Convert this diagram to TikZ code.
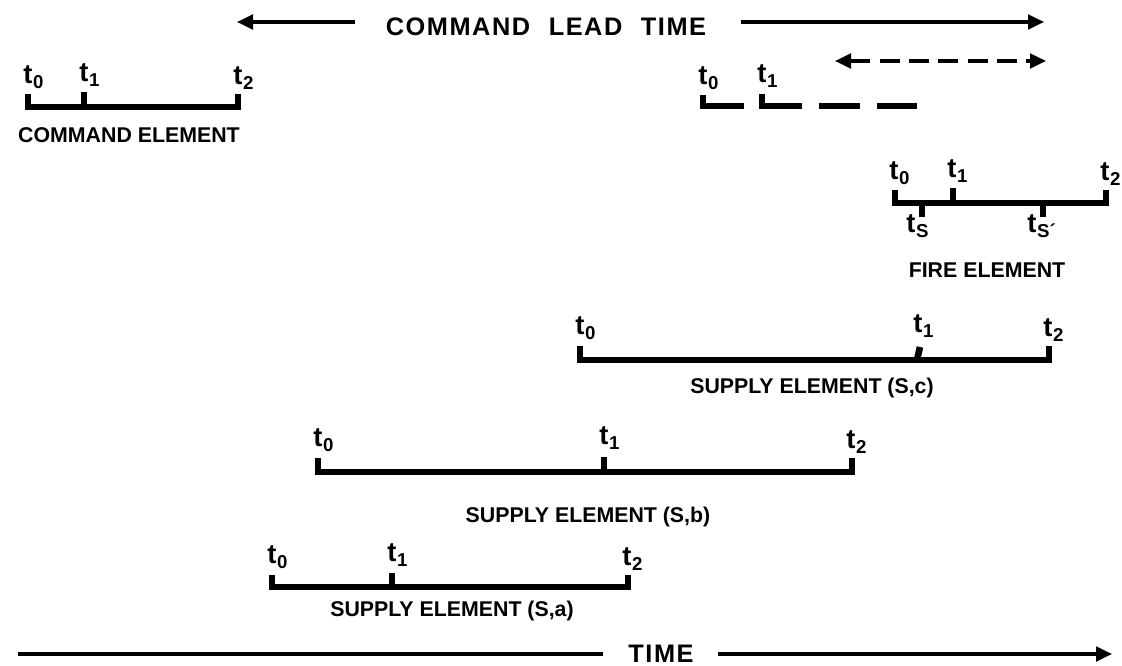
\documentclass[tikz,border=0pt]{standalone}
\usepackage{fontspec}
\setmainfont{Liberation Sans}
\newfontfamily\titlefont{Liberation Sans}[LetterSpace=6]
\usetikzlibrary{arrows.meta}
\newcommand{\tl}[1]{t\kern0.6pt\raisebox{-0.34ex}{\fontsize{14}{15}\selectfont #1}}
\tikzset{
  elbar/.style={line width=5pt, line join=miter, line cap=butt},
  arr/.style={line width=2.3pt, -{Triangle[length=12pt,width=11pt]}},
  darr/.style={line width=2.3pt, dash pattern=on 15pt off 7pt, {Triangle[length=12pt,width=11pt]}-{Triangle[length=12pt,width=11pt]}},
  tup/.style={anchor=south west, inner sep=0pt, font=\fontsize{20.5}{21}\selectfont\bfseries},
  tdn/.style={anchor=north west, inner sep=0pt, font=\fontsize{20.5}{21}\selectfont\bfseries},
  elname/.style={inner sep=0pt, font=\fontsize{16}{18}\selectfont\bfseries},
  ttl/.style={inner sep=0pt, font=\titlefont\fontsize{19}{21}\selectfont\bfseries}
}
\begin{document}
\begin{tikzpicture}[x=0.75pt,y=-0.75pt]
\useasboundingbox (0,0) rectangle (1122,666);

% ---------- command lead time ----------
\node[ttl] (clt) at (546,27) {COMMAND\hspace{14pt}LEAD\hspace{14pt}TIME};
\coordinate (cltA) at (355,22);
\coordinate (cltAtip) at (237,22);
\coordinate (cltB) at (741,22);
\coordinate (cltBtip) at (1044,22);
\draw[arr] (cltA) -- (cltAtip);
\draw[arr] (cltB) -- (cltBtip);
\coordinate (dA) at (835,61);
\coordinate (dB) at (1046,61);
\draw[darr] (dA) -- (dB);

% ---------- command element ----------
\coordinate (c0t) at (28,94);  \coordinate (c0) at (28,107);
\coordinate (c1t) at (84,92);  \coordinate (c1) at (84,107);
\coordinate (c2t) at (238,94); \coordinate (c2) at (238,107);
\draw[elbar] (c0t) -- (c0) -- (c2) -- (c2t);
\draw[elbar] (c1t) -- (c1);
\node[tup] (c0l) at (23,89) {\tl{0}};
\node[tup] (c1l) at (79,87) {\tl{1}};
\node[tup] (c2l) at (233,90) {\tl{2}};
\node[elname] (cname) at (129,135) {COMMAND ELEMENT};

% ---------- dashed (second) command element ----------
\coordinate (d0t) at (703,95); \coordinate (d0) at (703,106);
\coordinate (d0e) at (744,106);
\coordinate (d1t) at (762,94); \coordinate (d1) at (762,106);
\coordinate (d1e) at (802,106);
\coordinate (d2s) at (819,106); \coordinate (d2e) at (860,106);
\coordinate (d3s) at (877,106); \coordinate (d3e) at (917,106);
\draw[elbar] (d0t) -- (d0) -- (d0e);
\draw[elbar] (d1t) -- (d1) -- (d1e);
\draw[elbar] (d2s) -- (d2e);
\draw[elbar] (d3s) -- (d3e);
\node[tup] (d0l) at (698,90) {\tl{0}};
\node[tup] (d1l) at (757,88) {\tl{1}};

% ---------- fire element ----------
\coordinate (f0t) at (895,190);  \coordinate (f0) at (895,203);
\coordinate (f1t) at (953,188);  \coordinate (f1) at (953,203);
\coordinate (f2t) at (1106,190); \coordinate (f2) at (1106,203);
\coordinate (fs) at (922,203);   \coordinate (fsb) at (922,217);
\coordinate (fsp) at (1043,203); \coordinate (fspb) at (1043,217);
\draw[elbar] (f0t) -- (f0) -- (f2) -- (f2t);
\draw[elbar] (f1t) -- (f1);
\draw[elbar] (fs) -- (fsb);
\draw[elbar] (fsp) -- (fspb);
\node[tup] (f0l) at (889,185) {\tl{0}};
\node[tup] (f1l) at (947,183) {\tl{1}};
\node[tup] (f2l) at (1100,186) {\tl{2}};
\node[tdn] (fsl) at (906,214) {\tl{S}};
\node[tdn] (fspl) at (1027,214) {\tl{S\char"00B4}};
\node[elname] (fname) at (987,270) {FIRE ELEMENT};

% ---------- supply element (S,c) ----------
\coordinate (sc0t) at (580,346);  \coordinate (sc0) at (580,360);
\coordinate (sc1t) at (920,347);  \coordinate (sc1) at (917,360);
\coordinate (sc2t) at (1049,346); \coordinate (sc2) at (1049,360);
\draw[elbar] (sc0t) -- (sc0) -- (sc2) -- (sc2t);
\draw[elbar] (sc1t) -- (sc1);
\node[tup] (sc0l) at (575,340) {\tl{0}};
\node[tup] (sc1l) at (913,338) {\tl{1}};
\node[tup] (sc2l) at (1043,342) {\tl{2}};
\node[elname] (scname) at (812,388) {SUPPLY ELEMENT (S,c)};

% ---------- supply element (S,b) ----------
\coordinate (sb0t) at (318,458);  \coordinate (sb0) at (318,472);
\coordinate (sb1t) at (604,457);  \coordinate (sb1) at (604,472);
\coordinate (sb2t) at (852,458);  \coordinate (sb2) at (852,472);
\draw[elbar] (sb0t) -- (sb0) -- (sb2) -- (sb2t);
\draw[elbar] (sb1t) -- (sb1);
\node[tup] (sb0l) at (313,452) {\tl{0}};
\node[tup] (sb1l) at (599,450) {\tl{1}};
\node[tup] (sb2l) at (846,454) {\tl{2}};
\node[elname] (sbname) at (588,517) {SUPPLY ELEMENT (S,b)};

% ---------- supply element (S,a) ----------
\coordinate (sa0t) at (272,575);  \coordinate (sa0) at (272,587);
\coordinate (sa1t) at (392,573);  \coordinate (sa1) at (392,587);
\coordinate (sa2t) at (628,575);  \coordinate (sa2) at (628,587);
\draw[elbar] (sa0t) -- (sa0) -- (sa2) -- (sa2t);
\draw[elbar] (sa1t) -- (sa1);
\node[tup] (sa0l) at (267,569) {\tl{0}};
\node[tup] (sa1l) at (387,567) {\tl{1}};
\node[tup] (sa2l) at (622,571) {\tl{2}};
\node[elname] (saname) at (452,611) {SUPPLY ELEMENT (S,a)};

% ---------- time axis ----------
\node[ttl] (time) at (661,654) {TIME};
\coordinate (tA) at (18,654);
\coordinate (tAe) at (603,654);
\coordinate (tB) at (718,654);
\coordinate (tBtip) at (1112,654);
\draw[line width=2.3pt] (tA) -- (tAe);
\draw[arr] (tB) -- (tBtip);
\end{tikzpicture}
\end{document}
